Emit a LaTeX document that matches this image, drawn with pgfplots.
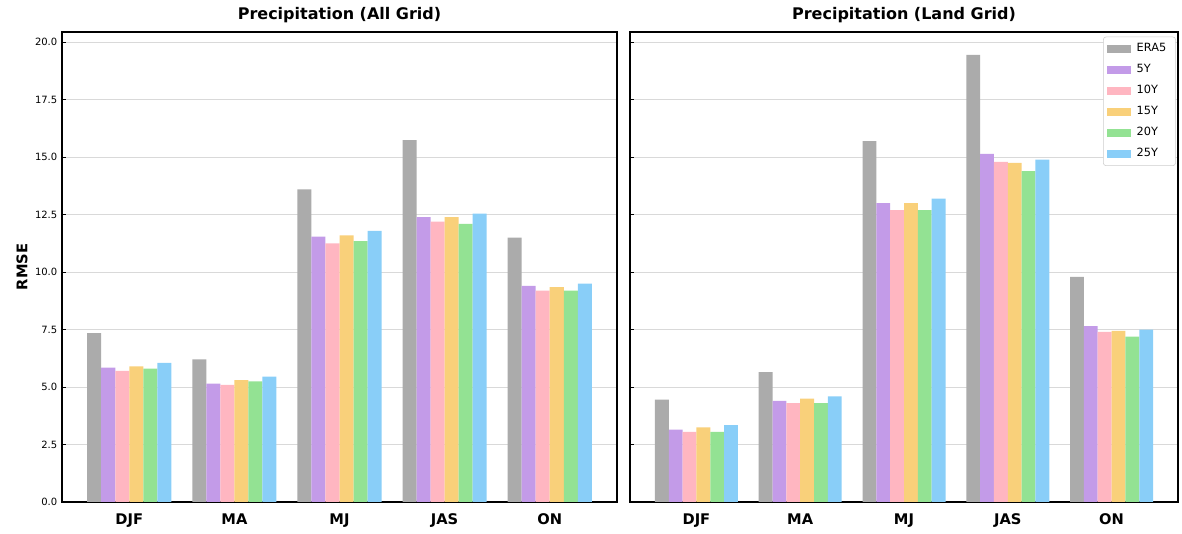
\documentclass[border=0pt]{standalone}
\usepackage{pgfplots}
\pgfplotsset{compat=1.18}
\usepackage{pgfplotstable}
\usepackage{fontspec}
\setmainfont{DejaVu Sans}
\definecolor{cera}{HTML}{ABABAB}
\definecolor{cfive}{HTML}{C39BE8}
\definecolor{cten}{HTML}{FFB6C1}
\definecolor{cfifteen}{HTML}{F9D07A}
\definecolor{ctwenty}{HTML}{93E293}
\definecolor{ctwentyfive}{HTML}{89CEF8}
\definecolor{gridc}{HTML}{D9D9D9}
\definecolor{legc}{HTML}{CCCCCC}

\pgfplotstableread{
x a b c d e f
0 7.35 5.85 5.70 5.90 5.80 6.05
1 6.20 5.15 5.10 5.30 5.25 5.45
2 13.60 11.55 11.25 11.60 11.35 11.80
3 15.75 12.40 12.20 12.40 12.10 12.55
4 11.50 9.40 9.20 9.35 9.20 9.50
}\allgrid
\pgfplotstableread{
x a b c d e f
0 4.45 3.15 3.05 3.25 3.05 3.35
1 5.65 4.40 4.30 4.50 4.30 4.60
2 15.70 13.00 12.70 13.00 12.70 13.20
3 19.45 15.15 14.80 14.75 14.40 14.90
4 9.80 7.65 7.40 7.45 7.20 7.50
}\landgrid

\pgfplotsset{
  mybase/.style={
    scale only axis, height=352.5pt,
    xmin=-0.64, xmax=4.64, ymin=0, ymax=20.45,
    ybar,
    xtick={0,...,4}, xticklabels={DJF,MA,MJ,JAS,ON},
    x tick label style={font=\fontsize{11}{12}\selectfont\bfseries, yshift=-2pt},
    xtick style={draw=none},
    ytick={0,2.5,...,20},
    ymajorgrids, grid style={color=gridc, line width=0.75pt},
    y tick label style={font=\fontsize{7.5}{8}\selectfont},
    yticklabel style={/pgf/number format/.cd, fixed, fixed zerofill, precision=1},
    /pgf/number format/assume math mode=true,
    ytick pos=left, axis line style={line width=0.8pt},
    major tick length=3pt, ytick style={black, line width=0.6pt},
    title style={font=\fontsize{12}{14}\selectfont\bfseries, yshift=-3pt},
  },
  bb/.style={draw=none, fill=#1, bar width=0.1333, bar shift=0pt},
}

\begin{document}
\begin{tikzpicture}
\path (-46.5pt,-24pt) rectangle (840pt,376.5pt);
\begin{axis}[mybase, width=416.25pt, at={(0pt,0pt)},
  title={Precipitation (All Grid)},
  ylabel={RMSE},
  ylabel style={font=\fontsize{11}{12}\selectfont\bfseries, at={(axis description cs:-0.072,0.5)}, anchor=center},
]
\addplot[bb=cera] table[x expr=\thisrow{x}-0.3333, y=a]{\allgrid};
\addplot[bb=cfive] table[x expr=\thisrow{x}-0.2, y=b]{\allgrid};
\addplot[bb=cten] table[x expr=\thisrow{x}-0.0667, y=c]{\allgrid};
\addplot[bb=cfifteen] table[x expr=\thisrow{x}+0.0667, y=d]{\allgrid};
\addplot[bb=ctwenty] table[x expr=\thisrow{x}+0.2, y=e]{\allgrid};
\addplot[bb=ctwentyfive] table[x expr=\thisrow{x}+0.3333, y=f]{\allgrid};
\end{axis}
\begin{axis}[mybase, width=411pt, at={(426pt,0pt)},
  title={Precipitation (Land Grid)},
  yticklabels={},
  legend cell align=left,
  legend style={at={(rel axis cs:0.996,0.99)}, anchor=north east, draw=legc, rounded corners=2pt,
    font=\fontsize{8.5}{9}\selectfont, row sep=4pt, inner sep=3pt, fill=white,
    nodes={inner xsep=4pt}},
  legend image code/.code={\fill[#1, sharp corners] (0pt,-3pt) rectangle (18pt,3pt);},
]
\addplot[bb=cera] table[x expr=\thisrow{x}-0.3333, y=a]{\landgrid};
\addplot[bb=cfive] table[x expr=\thisrow{x}-0.2, y=b]{\landgrid};
\addplot[bb=cten] table[x expr=\thisrow{x}-0.0667, y=c]{\landgrid};
\addplot[bb=cfifteen] table[x expr=\thisrow{x}+0.0667, y=d]{\landgrid};
\addplot[bb=ctwenty] table[x expr=\thisrow{x}+0.2, y=e]{\landgrid};
\addplot[bb=ctwentyfive] table[x expr=\thisrow{x}+0.3333, y=f]{\landgrid};
\legend{ERA5,5Y,10Y,15Y,20Y,25Y}
\end{axis}
\end{tikzpicture}
\end{document}
